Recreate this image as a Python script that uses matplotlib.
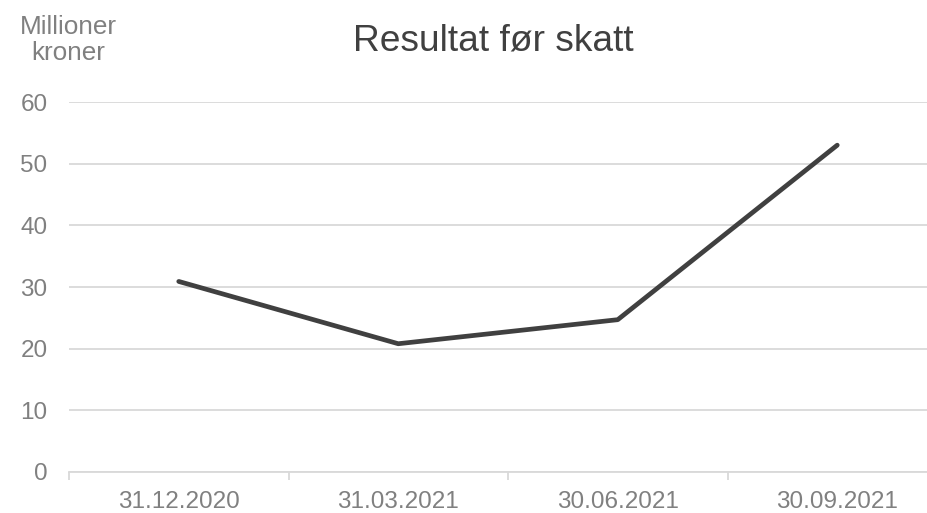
import numpy as np
import matplotlib.pyplot as plt

plt.rcParams['font.family'] = ['Liberation Sans', 'DejaVu Sans']

# Data (millioner kroner)
quarters = ['31.12.2020', '31.03.2021', '30.06.2021', '30.09.2021']
resultat = [30.9, 20.8, 24.7, 53.0]

grid_color = '#d9d9d9'
text_color = '#808080'

fig = plt.figure(figsize=(9.27, 5.13), dpi=100)
# plot area runs a little past the right edge, as in the original
ax = fig.add_axes([69 / 927, 41 / 513, 878 / 927, 370 / 513])

x = np.arange(len(quarters))
ax.plot(x, resultat, color='#404040', linewidth=3.4,
        solid_capstyle='round', solid_joinstyle='round', zorder=3)

ax.set_xlim(-0.5, len(quarters) - 0.5)
ax.set_ylim(0, 60)
ax.set_yticks(np.arange(0, 61, 10))
ax.set_xticks(x)
ax.set_xticklabels(quarters)
ax.set_xticks(np.arange(-0.5, len(quarters)), minor=True)

ax.grid(axis='y', color=grid_color, linewidth=1.3)
ax.set_axisbelow(True)
for side in ['top', 'right', 'left']:
    ax.spines[side].set_visible(False)
ax.spines['bottom'].set_color(grid_color)
ax.spines['bottom'].set_linewidth(1.3)

ax.tick_params(axis='y', length=0, pad=15.5, labelsize=17.5, labelcolor=text_color)
ax.tick_params(axis='x', which='major', length=0, pad=14, labelsize=17.5, labelcolor=text_color)
ax.tick_params(axis='x', which='minor', length=6, width=1.3, color=grid_color)

fig.text(493 / 927, 1 - 41 / 513, 'Resultat før skatt', ha='center', va='center',
         fontsize=26.7, color='#404040')
fig.text(68 / 927, 1 - 40 / 513, 'Millioner\nkroner', ha='center', va='center',
         fontsize=18.8, color=text_color, linespacing=1.15)

fig.savefig('out.png', dpi=100)
